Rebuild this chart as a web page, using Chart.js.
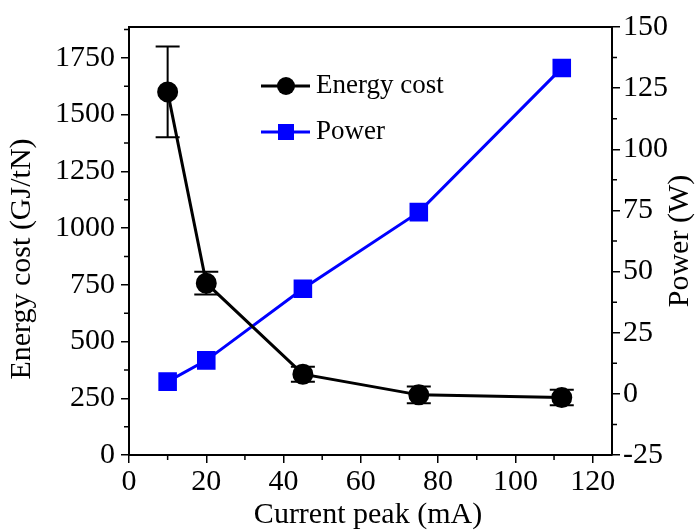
<!DOCTYPE html>
<html>
<head>
<meta charset="utf-8">
<script src="https://cdn.jsdelivr.net/npm/chart.js@4.4.1/dist/chart.umd.min.js"></script>
<style>
  body { margin: 0; background: #fff; }
  #wrap { width: 697px; height: 531px; }
</style>
</head>
<body>
<div id="wrap"><canvas id="myChart" width="697" height="531"></canvas></div>
<script>
// data
var currentPeak = [10, 20, 45, 75, 112];
var energyCost = [1600, 757, 356, 265, 253];
var energyErr = [200, 50, 33, 37, 34];
var power = [5, 13.7, 43, 74.3, 133.2];

var xMinor = [10, 30, 50, 70, 90, 110];
var yMinor = [125, 375, 625, 875, 1125, 1375, 1625, 1875];
var y1Minor = [-12.5, 12.5, 37.5, 62.5, 87.5, 112.5, 137.5];

var font = 'Liberation Serif, Times New Roman, serif';

function points(xs, ys) {
    var out = [];
    for (var i = 0; i < xs.length; i++) out.push({ x: xs[i], y: ys[i] });
    return out;
}

var extras = {
    id: 'extras',
    beforeDatasetsDraw: function (chart) {
        // error bars
        var ctx = chart.ctx, xs = chart.scales.x, ys = chart.scales.y;
        ctx.save();
        ctx.strokeStyle = '#000';
        ctx.lineWidth = 2;
        for (var i = 0; i < currentPeak.length; i++) {
            var px = xs.getPixelForValue(currentPeak[i]);
            var top = ys.getPixelForValue(energyCost[i] + energyErr[i]);
            var bot = ys.getPixelForValue(energyCost[i] - energyErr[i]);
            ctx.beginPath();
            ctx.moveTo(px, top); ctx.lineTo(px, bot);
            ctx.moveTo(px - 12, top); ctx.lineTo(px + 12, top);
            ctx.moveTo(px - 12, bot); ctx.lineTo(px + 12, bot);
            ctx.stroke();
        }
        ctx.restore();
    },
    afterDraw: function (chart) {
        var ctx = chart.ctx, a = chart.chartArea;
        var xs = chart.scales.x, ys = chart.scales.y, y1 = chart.scales.y1;
        ctx.save();
        ctx.strokeStyle = '#000';
        ctx.lineWidth = 2;
        // frame top
        ctx.beginPath();
        ctx.moveTo(a.left, a.top); ctx.lineTo(a.right, a.top);
        ctx.stroke();
        // minor ticks
        ctx.lineWidth = 1.5;
        ctx.beginPath();
        xMinor.forEach(function (v) {
            var p = xs.getPixelForValue(v);
            ctx.moveTo(p, a.bottom); ctx.lineTo(p, a.bottom + 5);
        });
        yMinor.forEach(function (v) {
            var p = ys.getPixelForValue(v);
            ctx.moveTo(a.left, p); ctx.lineTo(a.left - 5, p);
        });
        y1Minor.forEach(function (v) {
            var p = y1.getPixelForValue(v);
            ctx.moveTo(a.right, p); ctx.lineTo(a.right + 5, p);
        });
        ctx.stroke();

        // axis titles
        ctx.fillStyle = '#000';
        ctx.font = '30px ' + font;
        ctx.textAlign = 'center';
        ctx.textBaseline = 'middle';
        ctx.fillText('Current peak (mA)', 368, 515);
        ctx.save();
        ctx.translate(22, 259);
        ctx.rotate(-Math.PI / 2);
        ctx.fillText('Energy cost (GJ/tN)', 0, 0);
        ctx.restore();
        ctx.save();
        ctx.translate(680, 241);
        ctx.rotate(-Math.PI / 2);
        ctx.fillText('Power (W)', 0, 0);
        ctx.restore();

        // legend
        ctx.font = '27px ' + font;
        ctx.textAlign = 'left';
        ctx.lineWidth = 3;
        ctx.strokeStyle = '#000';
        ctx.beginPath(); ctx.moveTo(261, 86); ctx.lineTo(310, 86); ctx.stroke();
        ctx.beginPath(); ctx.arc(286, 86, 9, 0, Math.PI * 2); ctx.fill();
        ctx.fillText('Energy cost', 316, 86);
        ctx.strokeStyle = '#0000ff';
        ctx.fillStyle = '#0000ff';
        ctx.beginPath(); ctx.moveTo(261, 132); ctx.lineTo(310, 132); ctx.stroke();
        ctx.fillRect(278, 124, 16, 16);
        ctx.fillStyle = '#000';
        ctx.fillText('Power', 316, 132);
        ctx.restore();
    }
};

function plain(v) { return String(v); }

var ctx = document.getElementById('myChart').getContext('2d');
var chart = new Chart(ctx, {
    type: 'line',
    data: {
        datasets: [{
            label: 'Energy cost',
            data: points(currentPeak, energyCost),
            yAxisID: 'y',
            borderColor: '#000000',
            backgroundColor: '#000000',
            borderWidth: 3,
            pointStyle: 'circle',
            pointRadius: 9,
            pointHoverRadius: 9
        }, {
            label: 'Power',
            data: points(currentPeak, power),
            yAxisID: 'y1',
            borderColor: '#0000ff',
            backgroundColor: '#0000ff',
            borderWidth: 3,
            pointStyle: 'rect',
            pointRadius: 11,
            pointHoverRadius: 11
        }]
    },
    options: {
        responsive: false,
        animation: false,
        layout: { padding: { top: 27, left: 0, right: 0, bottom: 0 } },
        plugins: { legend: { display: false }, tooltip: { enabled: false } },
        scales: {
            x: {
                type: 'linear',
                min: 0, max: 125,
                ticks: { stepSize: 20, includeBounds: false, callback: plain, color: '#000', font: { family: font, size: 30 }, padding: 1, maxRotation: 0 },
                afterFit: function (s) { s.height = 76; },
                grid: { drawOnChartArea: false, tickLength: 8, color: '#000', lineWidth: 1.5 },
                border: { color: '#000', width: 2 }
            },
            y: {
                position: 'left',
                min: 0, max: 1886,
                ticks: { stepSize: 250, includeBounds: false, callback: plain, color: '#000', font: { family: font, size: 30 }, padding: 6 },
                afterFit: function (s) { s.width = 129; },
                grid: { drawOnChartArea: false, tickLength: 8, color: '#000', lineWidth: 1.5 },
                border: { color: '#000', width: 2 }
            },
            y1: {
                position: 'right',
                min: -25, max: 150,
                ticks: { stepSize: 25, callback: plain, color: '#000', font: { family: font, size: 30 }, padding: 3 },
                afterFit: function (s) { s.width = 85; },
                grid: { drawOnChartArea: false, tickLength: 8, color: '#000', lineWidth: 1.5 },
                border: { color: '#000', width: 2 }
            }
        }
    },
    plugins: [extras]
});
</script>
</body>
</html>
